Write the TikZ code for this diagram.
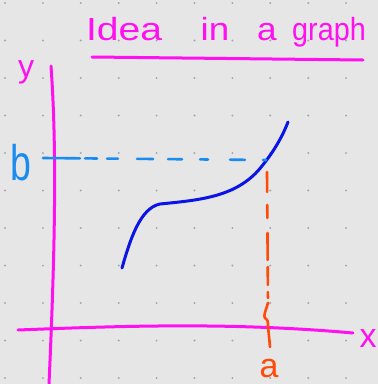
\documentclass[tikz,border=0pt]{standalone}
\usepackage{graphicx}
\usepackage{fontspec}
\setmainfont{Liberation Sans}
\definecolor{bgc}{HTML}{E6E6E6}
\definecolor{dotc}{HTML}{A8A8A8}
\definecolor{mag}{HTML}{FF10F0}
\definecolor{lblue}{HTML}{1A8CF0}
\definecolor{dblue}{HTML}{0A14E6}
\definecolor{orng}{HTML}{FF4A0A}
\begin{document}
\begin{tikzpicture}[x=1pt,y=-1pt,
  pen/.style={line width=3pt,line cap=round,line join=round},
  lbl/.style={inner sep=0pt,outer sep=0pt},
  ttl/.style={lbl,text=mag,font=\fontsize{32}{32}\selectfont,anchor=base}]
\fill[bgc] (0,0) rectangle (378,384);
\useasboundingbox (0,0) rectangle (378,384);
\foreach \i in {0,...,9}
  \foreach \j in {0,...,10}
    \fill[dotc] ({5+37.9*\i},{3+37.5*\j}) circle (1.1);
% title
\node[ttl] (t1) at (124,40) {\scalebox{1.22}[1]{Idea}};
\node[ttl] (t2) at (215,40) {\scalebox{1.15}[1]{in}};
\node[ttl] (t3) at (267,40) {\scalebox{1.1}[1]{a}};
\node[ttl] (t4) at (329,40) {\scalebox{0.9}[1]{graph}};
\coordinate (u1) at (92,57);
\coordinate (u2) at (363,60);
\draw[pen,mag] (u1) -- (u2);
% axes
\coordinate (ytop) at (51,66);
\coordinate (ybot) at (49,384);
\draw[pen,mag] (ytop) .. controls (57,150) and (55,250) .. (ybot);
\coordinate (xl) at (18,330);
\coordinate (xr) at (353,333);
\draw[pen,mag] (xl) .. controls (120,326) and (230,322) .. (xr);
\node[lbl,text=mag,font=\fontsize{32}{32}\selectfont,anchor=base] (ylab) at (26,77) {y};
\node[lbl,text=mag,font=\fontsize{34}{34}\selectfont,anchor=base] (xlab) at (368,347) {x};
% curve
\coordinate (c0) at (122,268);
\coordinate (c1) at (160,204);
\coordinate (c2) at (262,166);
\coordinate (c3) at (288,122);
\draw[pen,dblue] (c0) .. controls (130,240) and (140,208) .. (c1)
  .. controls (200,200) and (238,197) .. (c2)
  .. controls (275,150) and (283,135) .. (c3);
% b line
\node[lbl,text=lblue,font=\fontsize{50}{50}\selectfont,anchor=base] (blab) at (21,180) {\scalebox{0.75}[1]{b}};
\coordinate (b0) at (43,158);
\coordinate (b1) at (266,160);
\draw[pen,lblue,line width=2.6pt,dash pattern=on 37pt off 5pt on 12pt off 10pt on 11pt off 19pt on 16pt off 15pt on 14pt off 18pt on 8pt off 22pt on 15pt off 18pt on 5pt off 40pt] (b0) -- (b1);
% a line
\coordinate (a0) at (267,172);
\coordinate (a1) at (268,303);
\draw[pen,orng,line width=2.6pt,dash pattern=on 20pt off 13pt on 13pt off 15pt on 27pt off 7pt on 18pt off 7pt on 6pt off 5pt] (a0) -- (a1);
\coordinate (a2) at (270,347);
\draw[pen,orng,line width=2.6pt] (a1) .. controls (266,310) and (263,316) .. (265,318)
  .. controls (268,320) and (268,322) .. (268,326) -- (a2);
\node[lbl,text=orng,font=\fontsize{34}{34}\selectfont,anchor=base] (alab) at (269,377) {a};
\end{tikzpicture}
\end{document}
